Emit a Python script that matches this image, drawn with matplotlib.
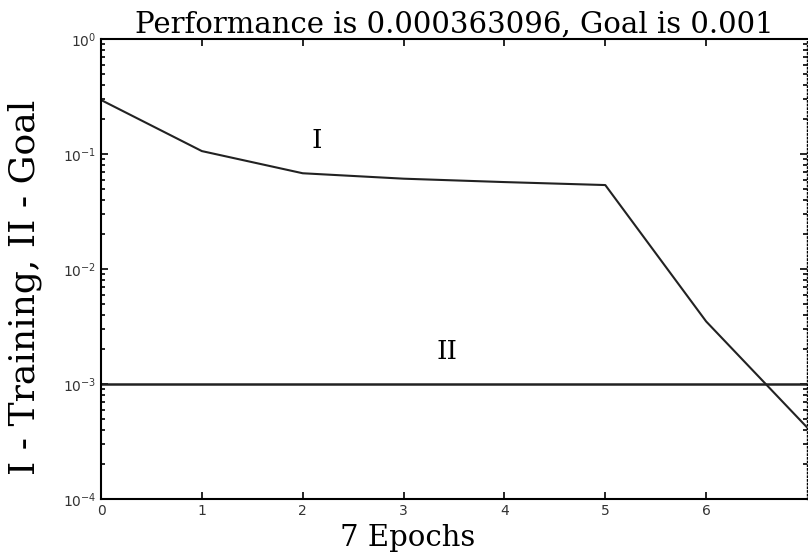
import numpy as np
import matplotlib.pyplot as plt
from matplotlib.ticker import LogLocator, NullFormatter

# training performance per epoch
epochs = [0, 1, 2, 3, 4, 5, 6, 7]
perf = [0.295, 0.106, 0.068, 0.061, 0.057, 0.0537, 0.0035, 0.00042]
goal = 0.001
ytick_vals = [1e-4, 1e-3, 1e-2, 1e-1, 1e0]
ytick_labels = ["$10^{-4}$", "$10^{-3}$", "$10^{-2}$", "$10^{-1}$", "$10^{0}$"]

fig = plt.figure(figsize=(8.08, 5.55), dpi=100)
ax = fig.add_axes([101 / 808, 1 - 499 / 555, 706 / 808, 460 / 555])

ax.plot(epochs, perf, color="#222222", lw=1.5)
ax.axhline(goal, color="#222222", lw=1.8)

ax.set_yscale("log")
ax.set_xlim(0, 7)
ax.set_ylim(1e-4, 1)
ax.set_xticks(range(0, 7))
ax.set_yticks(ytick_vals)
ax.set_yticklabels(ytick_labels)
ax.yaxis.set_minor_locator(LogLocator(base=10, subs=np.arange(2, 10)))
ax.yaxis.set_minor_formatter(NullFormatter())

ax.tick_params(which="both", direction="in", top=True, right=True,
               labelsize=10, labelcolor="#333333", width=1.2)
ax.tick_params(which="major", length=5)
ax.tick_params(which="minor", length=3)
for s in ["left", "bottom", "top"]:
    ax.spines[s].set_linewidth(1.5)
ax.spines["right"].set_linestyle(":")
ax.spines["right"].set_linewidth(1.0)

serif = ["DejaVu Serif"]
ax.set_title("Performance is 0.000363096, Goal is 0.001", family=serif,
             fontsize=21, pad=3)
ax.set_xlabel("7 Epochs", family=serif, fontsize=21)
ax.xaxis.set_label_coords(0.435, -0.055)
ax.set_ylabel("I - Training, II - Goal", family=serif, fontsize=26)
ax.yaxis.set_label_coords(-0.083, 0.46)

ax.text(2.14, 0.13, "I", family=serif, fontsize=19, ha="center", va="center")
ax.text(3.43, 0.0019, "II", family=serif, fontsize=19, ha="center", va="center")

fig.savefig("out.png", dpi=100)
